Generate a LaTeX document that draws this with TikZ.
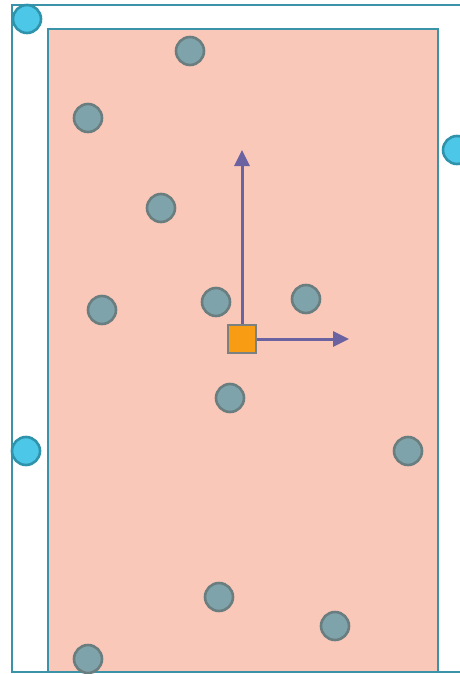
\documentclass[tikz,border=0pt]{standalone}
\usetikzlibrary{arrows.meta}
\definecolor{framec}{HTML}{3A93A8}
\definecolor{zonefill}{HTML}{FAC8B9}
\definecolor{dotfill}{HTML}{7FA3AB}
\definecolor{dotline}{HTML}{6A7E80}
\definecolor{bluefill}{HTML}{4DC7E8}
\definecolor{blueline}{HTML}{2F93AB}
\definecolor{sqfill}{HTML}{F89D13}
\definecolor{sqline}{HTML}{7B8080}
\definecolor{arrc}{HTML}{6B63A1}
\tikzset{
  dot/.style={circle,draw=dotline,fill=dotfill,line width=2.6pt,minimum size=28pt,inner sep=0pt},
  bluedot/.style={circle,draw=blueline,fill=bluefill,line width=2.6pt,minimum size=28pt,inner sep=0pt},
  sq/.style={rectangle,draw=sqline,fill=sqfill,line width=2.6pt,minimum size=28pt,inner sep=0pt},
  vec/.style={draw=arrc,line width=3pt,-{Triangle[length=16pt,width=15pt]}}
}
\begin{document}
\begin{tikzpicture}[x=1pt,y=-1pt]
\clip (0,0) rectangle (460,674);
\useasboundingbox (0,0) rectangle (460,674);
\fill[white] (0,0) rectangle (460,674);
\draw[framec,line width=2.5pt] (12,5) rectangle (480,672);
\draw[framec,line width=2.5pt,fill=zonefill] (48,29) rectangle (438,672);
\node[bluedot] (b1) at (27,19) {};
\node[bluedot] (b2) at (457,150) {};
\node[bluedot] (b3) at (26,451) {};
\node[dot] (d1) at (190,51) {};
\node[dot] (d2) at (88,118) {};
\node[dot] (d3) at (161,208) {};
\node[dot] (d4) at (102,310) {};
\node[dot] (d5) at (216,302) {};
\node[dot] (d6) at (306,299) {};
\node[dot] (d7) at (230,398) {};
\node[dot] (d8) at (408,451) {};
\node[dot] (d9) at (219,597) {};
\node[dot] (d10) at (335,626) {};
\node[dot] (d11) at (88,659) {};
\coordinate (up) at (242,150);
\coordinate (rt) at (349,339);
\draw[vec] (242,325) -- (up);
\draw[vec] (256,339) -- (rt);
\node[sq] (s) at (242,339) {};
\end{tikzpicture}
\end{document}
